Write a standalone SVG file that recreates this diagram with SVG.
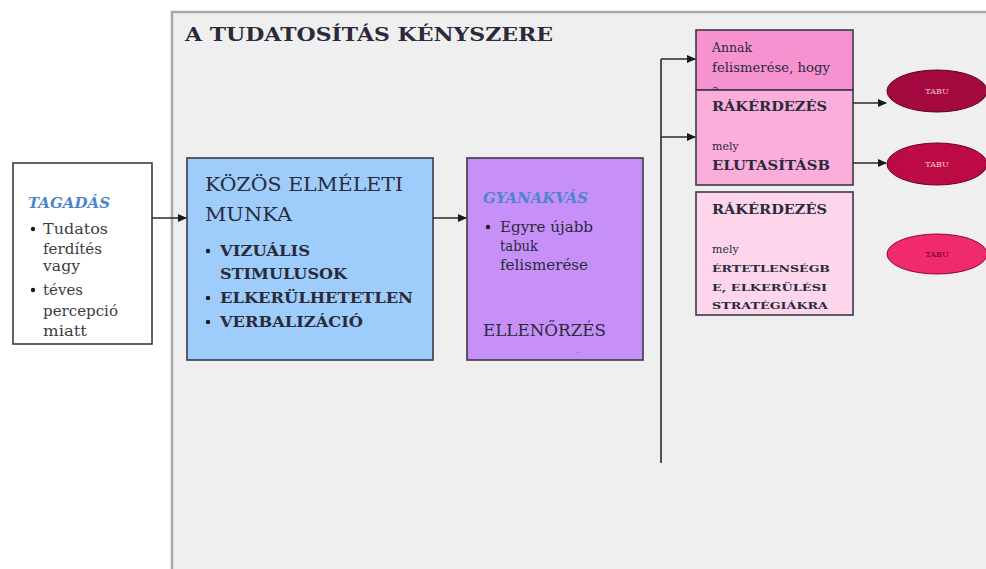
<svg xmlns="http://www.w3.org/2000/svg" width="986" height="569" viewBox="0 0 986 569">
<style>
  .t{font-family:"DejaVu Serif","Liberation Serif",serif;fill:#2a2a3a}
  .g{fill:#3c3c44}
  .blue{font-family:"DejaVu Serif","Liberation Serif",serif;fill:#4f85cc;font-style:italic;font-weight:bold}
  .box{stroke:#3a3a48;stroke-width:1.6}
  .conn{stroke:#2a2a2a;stroke-width:1.6;fill:none}
  .tabu{font-family:"DejaVu Serif","Liberation Serif",serif;font-size:8px;text-anchor:middle}
</style>
<defs>
  <marker id="arr" markerWidth="9" markerHeight="8" refX="8" refY="4" orient="auto" markerUnits="userSpaceOnUse">
    <path d="M0,0 L9,4 L0,8 Z" fill="#1a1a1a"/>
  </marker>
</defs>
<rect x="0" y="0" width="986" height="569" fill="#ffffff"/>
<g id="frame">
  <rect x="172" y="12" width="830" height="570" fill="#efefef" stroke="#a8a8a8" stroke-width="2.5"/>
  <text class="t" x="185" y="41" font-size="19" font-weight="bold" textLength="368" lengthAdjust="spacingAndGlyphs">A TUDATOSÍTÁS KÉNYSZERE</text>
</g>
<g id="tagadas">
  <rect class="box" x="13" y="163" width="139" height="181" fill="#ffffff" stroke="#555"/>
  <text class="blue" x="28" y="208" font-size="15" textLength="82" lengthAdjust="spacingAndGlyphs">TAGADÁS</text>
  <g class="t g" font-size="15">
    <circle cx="33" cy="229" r="2.2" fill="#1a1a1a"/>
    <text x="43" y="234" textLength="65" lengthAdjust="spacingAndGlyphs">Tudatos</text>
    <text x="43" y="254" textLength="59" lengthAdjust="spacingAndGlyphs">ferdítés</text>
    <text x="43" y="271" textLength="37" lengthAdjust="spacingAndGlyphs">vagy</text>
    <circle cx="33" cy="290" r="2.2" fill="#1a1a1a"/>
    <text x="43" y="295" textLength="40" lengthAdjust="spacingAndGlyphs">téves</text>
    <text x="43" y="316" textLength="75" lengthAdjust="spacingAndGlyphs">percepció</text>
    <text x="43" y="336" textLength="44" lengthAdjust="spacingAndGlyphs">miatt</text>
  </g>
</g>
<g id="kozos">
  <rect class="box" x="187" y="158" width="246" height="202" fill="#9ecdfb"/>
  <text class="t" x="205" y="191" font-size="19" textLength="198" lengthAdjust="spacingAndGlyphs">KÖZÖS ELMÉLETI</text>
  <text class="t" x="205" y="221" font-size="19" textLength="87" lengthAdjust="spacingAndGlyphs">MUNKA</text>
  <g class="t" font-size="14" font-weight="bold">
    <circle cx="208" cy="251" r="2.2" fill="#1a1a1a"/>
    <text x="220" y="256" textLength="90" lengthAdjust="spacingAndGlyphs">VIZUÁLIS</text>
    <text x="220" y="279" textLength="127" lengthAdjust="spacingAndGlyphs">STIMULUSOK</text>
    <circle cx="208" cy="298" r="2.2" fill="#1a1a1a"/>
    <text x="220" y="303" textLength="193" lengthAdjust="spacingAndGlyphs">ELKERÜLHETETLEN</text>
    <circle cx="208" cy="322" r="2.2" fill="#1a1a1a"/>
    <text x="220" y="327" textLength="143" lengthAdjust="spacingAndGlyphs">VERBALIZÁCIÓ</text>
  </g>
</g>
<g id="gyanakvas">
  <rect class="box" x="467" y="158" width="176" height="202" fill="#c790f9"/>
  <text class="blue" x="483" y="203" font-size="14" textLength="105" lengthAdjust="spacingAndGlyphs">GYANAKVÁS</text>
  <g class="t" font-size="14">
    <circle cx="488" cy="227" r="2.2" fill="#1a1a1a"/>
    <text x="500" y="232" textLength="93" lengthAdjust="spacingAndGlyphs">Egyre újabb</text>
    <text x="500" y="251" textLength="38" lengthAdjust="spacingAndGlyphs">tabuk</text>
    <text x="500" y="270" textLength="88" lengthAdjust="spacingAndGlyphs">felismerése</text>
  </g>
  <text class="t" x="483" y="336" font-size="16" textLength="123" lengthAdjust="spacingAndGlyphs">ELLENŐRZÉS</text>
  <text class="t" x="577" y="353" font-size="6">.</text>
</g>
<g id="annak">
  <rect class="box" x="696" y="30" width="157" height="60" fill="#f592cf"/>
  <g class="t" font-size="12">
    <text x="712" y="52" textLength="40" lengthAdjust="spacingAndGlyphs">Annak</text>
    <text x="712" y="72" textLength="118" lengthAdjust="spacingAndGlyphs">felismerése, hogy</text>
    <text x="712" y="94">a</text>
  </g>
</g>
<g id="rakerdezes1">
  <rect class="box" x="696" y="90" width="157" height="95" fill="#fbaedb"/>
  <text class="t" x="712" y="111" font-size="12" font-weight="bold" textLength="115" lengthAdjust="spacingAndGlyphs">RÁKÉRDEZÉS</text>
  <text class="t" x="712" y="150" font-size="11">mely</text>
  <text class="t" x="712" y="170" font-size="12" font-weight="bold" textLength="118" lengthAdjust="spacingAndGlyphs">ELUTASÍTÁSB</text>
</g>
<g id="rakerdezes2">
  <rect class="box" x="696" y="192" width="157" height="123" fill="#fdd6ec"/>
  <text class="t" x="712" y="214" font-size="12" font-weight="bold" textLength="115" lengthAdjust="spacingAndGlyphs">RÁKÉRDEZÉS</text>
  <text class="t" x="712" y="253" font-size="11">mely</text>
  <g class="t" font-size="10" font-weight="bold">
    <text x="712" y="272" textLength="118" lengthAdjust="spacingAndGlyphs">ÉRTETLENSÉGB</text>
    <text x="712" y="291" textLength="115" lengthAdjust="spacingAndGlyphs">E, ELKERÜLÉSI</text>
    <text x="712" y="309" textLength="116" lengthAdjust="spacingAndGlyphs">STRATÉGIÁKRA</text>
  </g>
</g>
<g id="tabu1">
  <ellipse cx="937" cy="91" rx="50" ry="21" fill="#a3093e" stroke="#5a0020" stroke-width="1"/>
  <text class="tabu" x="937" y="94" fill="#f3c6d6">TABU</text>
</g>
<g id="tabu2">
  <ellipse cx="937" cy="164" rx="50" ry="21" fill="#bc0a44" stroke="#6a0028" stroke-width="1"/>
  <text class="tabu" x="937" y="167" fill="#f6cbd8">TABU</text>
</g>
<g id="tabu3">
  <ellipse cx="937" cy="254" rx="50" ry="20" fill="#f02a6c" stroke="#8a0a36" stroke-width="1"/>
  <text class="tabu" x="937" y="257" fill="#6a0020">TABU</text>
</g>
<g id="connectors">
  <path class="conn" d="M152,218 H186" marker-end="url(#arr)"/>
  <path class="conn" d="M433,218 H466" marker-end="url(#arr)"/>
  <path class="conn" d="M661,463 V59"/>
  <path class="conn" d="M661,59 H695" marker-end="url(#arr)"/>
  <path class="conn" d="M661,137 H695" marker-end="url(#arr)"/>
  <path class="conn" d="M853,103 H886" marker-end="url(#arr)"/>
  <path class="conn" d="M853,163 H886" marker-end="url(#arr)"/>
</g>
</svg>
